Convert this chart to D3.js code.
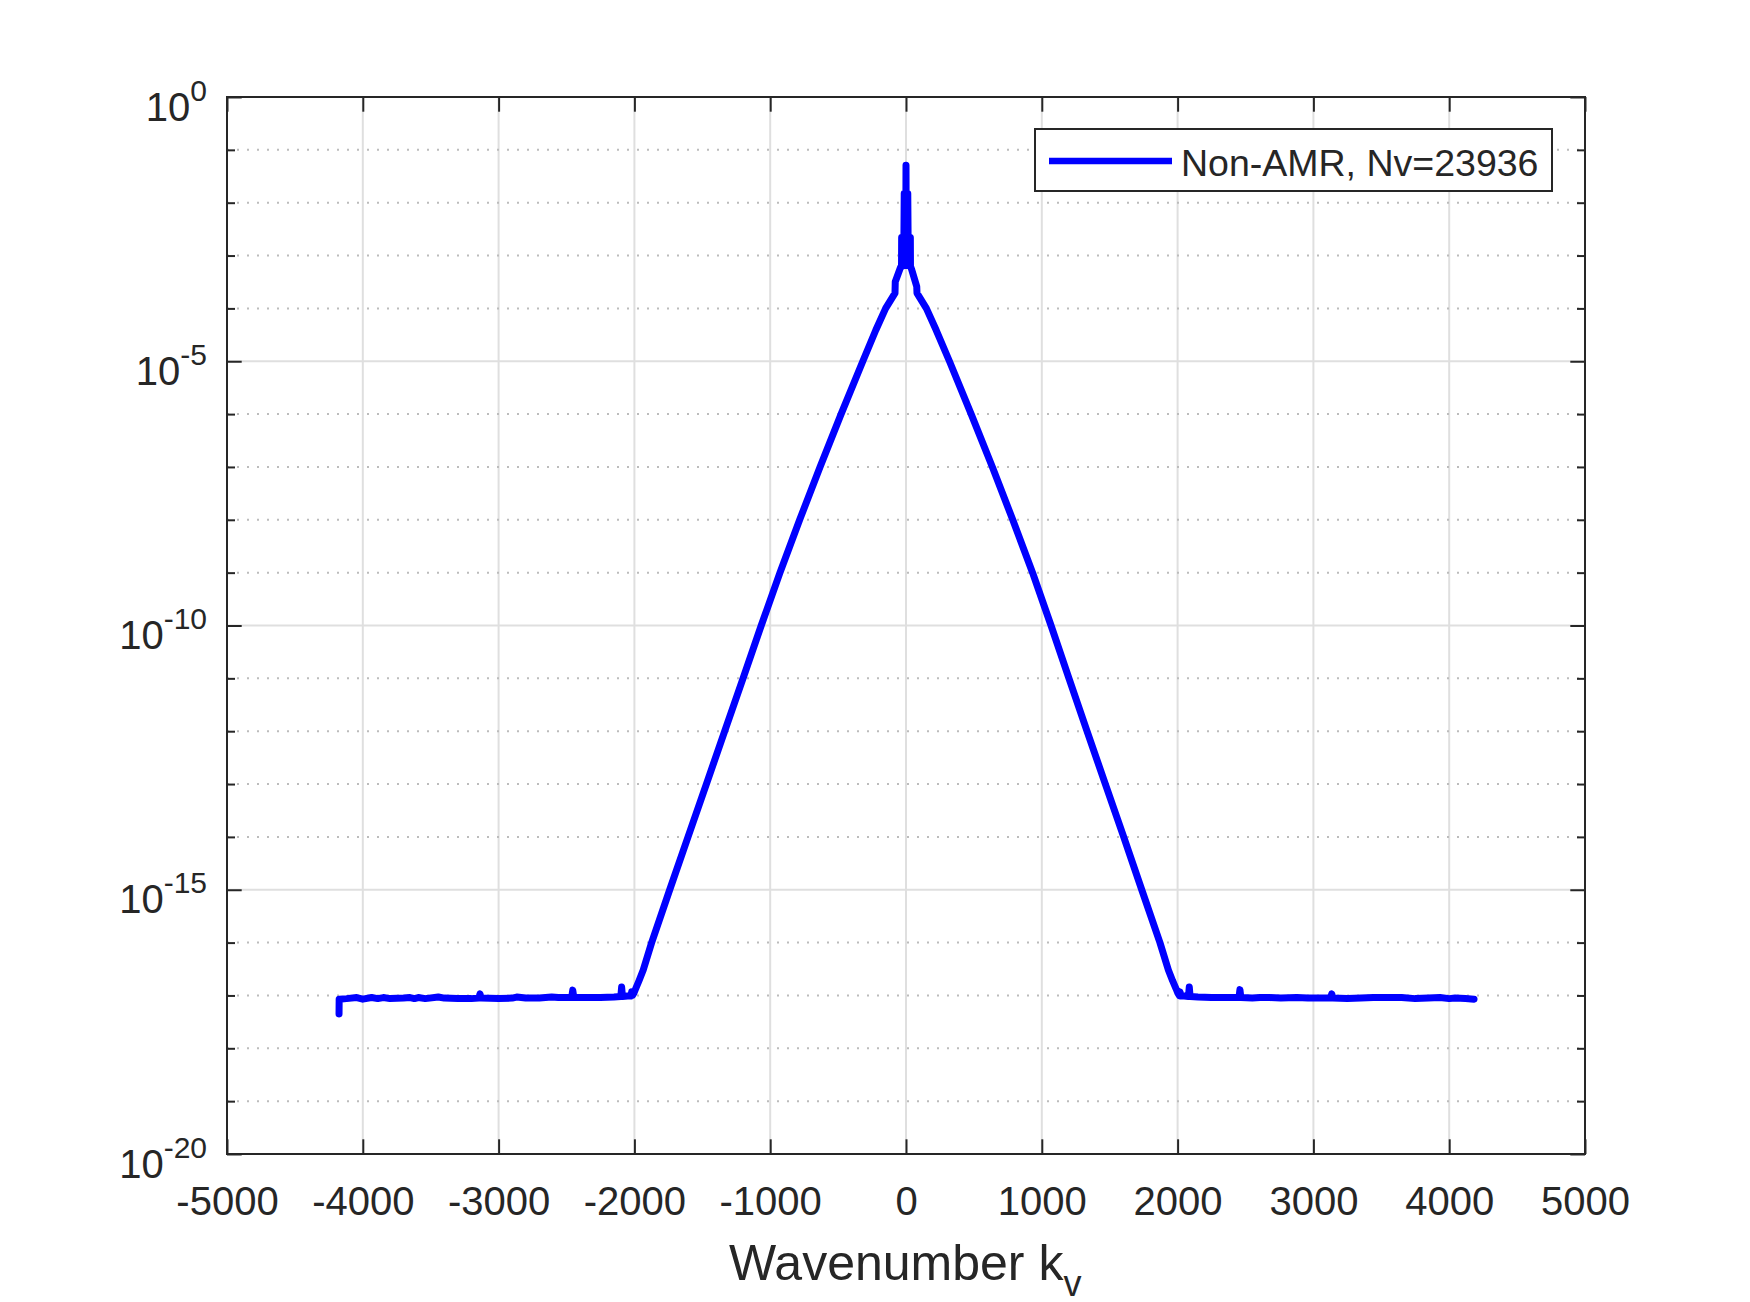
<!DOCTYPE html>
<html>
<head>
<meta charset="utf-8">
<script src="https://cdn.jsdelivr.net/npm/d3@7"></script>
<style>
  html, body { margin: 0; padding: 0; background: #fff; }
  svg text { font-family: "Liberation Sans", Arial, Helvetica, sans-serif; fill: #262626; }
</style>
</head>
<body>
<div id="chart"></div>
<script>
// --- data (kv, spectrum value) ---
const kvLeftFloor = [-4175, -4174, -4120, -4045, -4000, -3935, -3890, -3849, -3800, -3700, -3652, -3620,
  -3591, -3540, -3444, -3400, -3300, -3200, -3145, -3137, -3129, -3000, -2900, -2867, -2800, -2700,
  -2609, -2560, -2462, -2454, -2446, -2350, -2250, -2150, -2100, -2094, -2088, -2050, -2026, -2020, -2014];
const psdLeftFloor = [4.47e-18, 8.51e-18, 8.71e-18, 9.12e-18, 8.51e-18, 9.12e-18, 8.71e-18, 9.12e-18, 8.71e-18, 8.91e-18, 9.12e-18, 8.71e-18,
  9.12e-18, 8.71e-18, 9.33e-18, 8.91e-18, 8.71e-18, 8.71e-18, 8.91e-18, 1.07e-17, 8.91e-18, 8.71e-18, 8.91e-18, 9.33e-18, 8.91e-18, 8.91e-18,
  9.33e-18, 9.12e-18, 9.12e-18, 1.26e-17, 9.12e-18, 9.12e-18, 9.12e-18, 9.33e-18, 9.55e-18, 1.45e-17, 9.55e-18, 9.77e-18, 9.77e-18, 1.17e-17, 1.0e-17];

const kvLeftSlope = [-2004, -1990, -1966, -1935, -1873, -1740, -1605, -1470, -1335, -1200, -1066, -928, -783, -633, -478, -318, -222, -150];
const psdLeftSlope = [1.1e-17, 1.35e-17, 1.9e-17, 3.02e-17, 1e-16, 1e-15, 1e-14, 1e-13, 1e-12, 1e-11, 1e-10, 1e-9, 1e-8, 1e-7, 1e-6, 1e-5, 3.9e-5, 1e-4];

const kvCore = [-81, -79, -40, -33, -32, -27, -22, -17, -13, -9, -5, -2, 0, 2, 5, 9, 13, 17, 22, 27, 32, 33, 40, 79, 81];
const psdCore = [1.95e-4, 3.2e-4, 6.0e-4, 6.3e-4, 2.2e-3, 6.3e-4, 2.2e-3, 6.5e-4, 1.5e-2, 6.5e-4, 1.5e-2, 7e-4, 5.1e-2,
  7e-4, 1.5e-2, 6.5e-4, 1.5e-2, 6.5e-4, 2.2e-3, 6.3e-4, 2.2e-3, 6.3e-4, 5.6e-4, 2.6e-4, 1.95e-4];

const kvRightSlope = [150, 222, 320, 480, 636, 786, 932, 1068, 1200, 1333, 1468, 1603, 1736, 1870, 1932, 1963, 1988, 2002];
const psdRightSlope = [1e-4, 3.9e-5, 1e-5, 1e-6, 1e-7, 1e-8, 1e-9, 1e-10, 1e-11, 1e-12, 1e-13, 1e-14, 1e-15, 1e-16, 3.02e-17, 1.9e-17, 1.35e-17, 1.1e-17];

const kvRightFloor = [2012, 2018, 2024, 2050, 2080, 2086, 2092, 2150, 2250, 2350, 2452, 2459, 2466, 2550, 2607, 2680, 2760,
  2877, 2960, 3060, 3128, 3135, 3142, 3250, 3350, 3441, 3515, 3588, 3650, 3750, 3846, 3932, 4000, 4043, 4120, 4183];
const psdRightFloor = [1.0e-17, 1.17e-17, 9.77e-18, 9.77e-18, 9.55e-18, 1.45e-17, 9.55e-18, 9.33e-18, 9.12e-18, 9.12e-18, 9.12e-18, 1.29e-17, 9.12e-18, 8.91e-18, 9.12e-18, 9.12e-18, 8.91e-18,
  9.12e-18, 8.91e-18, 8.91e-18, 8.91e-18, 1.07e-17, 8.91e-18, 8.71e-18, 8.91e-18, 9.12e-18, 9.12e-18, 9.12e-18, 9.12e-18, 8.71e-18, 8.91e-18, 9.12e-18, 8.71e-18, 8.91e-18, 8.71e-18, 8.51e-18];

const xTicks = [-5000, -4000, -3000, -2000, -1000, 0, 1000, 2000, 3000, 4000, 5000];
const yMajorExp = [0, -5, -10, -15, -20];
const seriesName = "Non-AMR, Nv=23936";
const xLabel = "Wavenumber k";
const xLabelSub = "v";

// --- layout ---
const W = 1750, H = 1302;
const mLeft = 227, mRight = 1585, mTop = 97, mBottom = 1154;
const axisColor = "#262626";
const lineColor = "#0000ff";

const svg = d3.select("#chart").append("svg")
  .attr("width", W).attr("height", H)
  .attr("viewBox", `0 0 ${W} ${H}`);

svg.append("rect").attr("width", W).attr("height", H).attr("fill", "#fff");

const x = d3.scaleLinear().domain([-5000, 5000]).range([mLeft, mRight]);
const y = d3.scaleLog().domain([1e-20, 1]).range([mBottom, mTop]);

const yAll = d3.range(-20, 1).map(e => Math.pow(10, e));
const yMajor = yMajorExp.map(e => Math.pow(10, e));
const yMinor = yAll.filter(v => !yMajorExp.includes(Math.round(Math.log10(v))));

// grid
const grid = svg.append("g");
grid.selectAll(".xg").data(xTicks.slice(1, -1)).enter().append("line")
  .attr("x1", d => x(d)).attr("x2", d => x(d))
  .attr("y1", mTop).attr("y2", mBottom)
  .attr("stroke", "#dfdfdf").attr("stroke-width", 2);
grid.selectAll(".ymg").data(yMinor).enter().append("line")
  .attr("x1", mLeft).attr("x2", mRight)
  .attr("y1", d => y(d)).attr("y2", d => y(d))
  .attr("stroke", "#bcbcbc").attr("stroke-width", 2)
  .attr("stroke-dasharray", "2 8");
grid.selectAll(".yg").data(yMajor.slice(1, -1)).enter().append("line")
  .attr("x1", mLeft).attr("x2", mRight)
  .attr("y1", d => y(d)).attr("y2", d => y(d))
  .attr("stroke", "#dfdfdf").attr("stroke-width", 2);

// series
const pts = [];
[[kvLeftFloor, psdLeftFloor], [kvLeftSlope, psdLeftSlope], [kvCore, psdCore],
 [kvRightSlope, psdRightSlope], [kvRightFloor, psdRightFloor]].forEach(([k, p]) => {
  k.forEach((kv, i) => pts.push([kv, p[i]]));
});

const line = d3.line().x(d => x(d[0])).y(d => y(d[1]));
svg.append("path")
  .datum(pts)
  .attr("d", line)
  .attr("fill", "none")
  .attr("stroke", lineColor)
  .attr("stroke-width", 7)
  .attr("stroke-linejoin", "round")
  .attr("stroke-linecap", "round");

// axes
const majorLen = 14.7, minorLen = 8;
function styleAxis(g) {
  g.select(".domain").remove();
  g.selectAll(".tick line").attr("stroke", axisColor).attr("stroke-width", 2);
}

const xAxis = svg.append("g")
  .attr("transform", `translate(0,${mBottom})`)
  .call(d3.axisBottom(x).tickValues(xTicks).tickSize(-majorLen).tickPadding(33).tickFormat(d => String(d)));
styleAxis(xAxis);
xAxis.selectAll(".tick text").attr("font-size", 40).attr("fill", axisColor)
  .style("font-family", '"Liberation Sans", Arial, sans-serif');

const xAxisTop = svg.append("g")
  .attr("transform", `translate(0,${mTop})`)
  .call(d3.axisTop(x).tickValues(xTicks).tickSize(-majorLen).tickFormat(""));
styleAxis(xAxisTop);

const yAxisL = svg.append("g")
  .attr("transform", `translate(${mLeft},0)`)
  .call(d3.axisLeft(y).tickValues(yMajor).tickSize(-majorLen).tickFormat(""));
styleAxis(yAxisL);
const yAxisLMinor = svg.append("g")
  .attr("transform", `translate(${mLeft},0)`)
  .call(d3.axisLeft(y).tickValues(yMinor).tickSize(-minorLen).tickFormat(""));
styleAxis(yAxisLMinor);

const yAxisR = svg.append("g")
  .attr("transform", `translate(${mRight},0)`)
  .call(d3.axisRight(y).tickValues(yMajor).tickSize(-majorLen).tickFormat(""));
styleAxis(yAxisR);
const yAxisRMinor = svg.append("g")
  .attr("transform", `translate(${mRight},0)`)
  .call(d3.axisRight(y).tickValues(yMinor).tickSize(-minorLen).tickFormat(""));
styleAxis(yAxisRMinor);

// y tick labels 10^n
yAxisL.selectAll(".tick").each(function (d) {
  const t = d3.select(this).append("text")
    .attr("x", -20).attr("y", 23)
    .attr("text-anchor", "end")
    .attr("font-size", 40)
    .attr("fill", axisColor);
  t.append("tspan").text("10");
  t.append("tspan").attr("dy", -20).attr("font-size", 30)
    .text(Math.round(Math.log10(d)));
});

// frame
svg.append("rect")
  .attr("x", mLeft).attr("y", mTop)
  .attr("width", mRight - mLeft).attr("height", mBottom - mTop)
  .attr("fill", "none").attr("stroke", axisColor).attr("stroke-width", 2);

// x label
const xl = svg.append("text")
  .attr("x", 729).attr("y", 1280)
  .attr("font-size", 50);
xl.append("tspan").text(xLabel);
xl.append("tspan").attr("dy", 16).attr("font-size", 36).text(xLabelSub);

// legend
const lg = svg.append("g");
lg.append("rect")
  .attr("x", 1035).attr("y", 129).attr("width", 517).attr("height", 62)
  .attr("fill", "#fff").attr("stroke", axisColor).attr("stroke-width", 2);
lg.append("line")
  .attr("x1", 1049).attr("x2", 1172).attr("y1", 161).attr("y2", 161)
  .attr("stroke", lineColor).attr("stroke-width", 6.5);
lg.append("text")
  .attr("x", 1181).attr("y", 176)
  .attr("font-size", 37.5)
  .text(seriesName);
</script>
</body>
</html>
